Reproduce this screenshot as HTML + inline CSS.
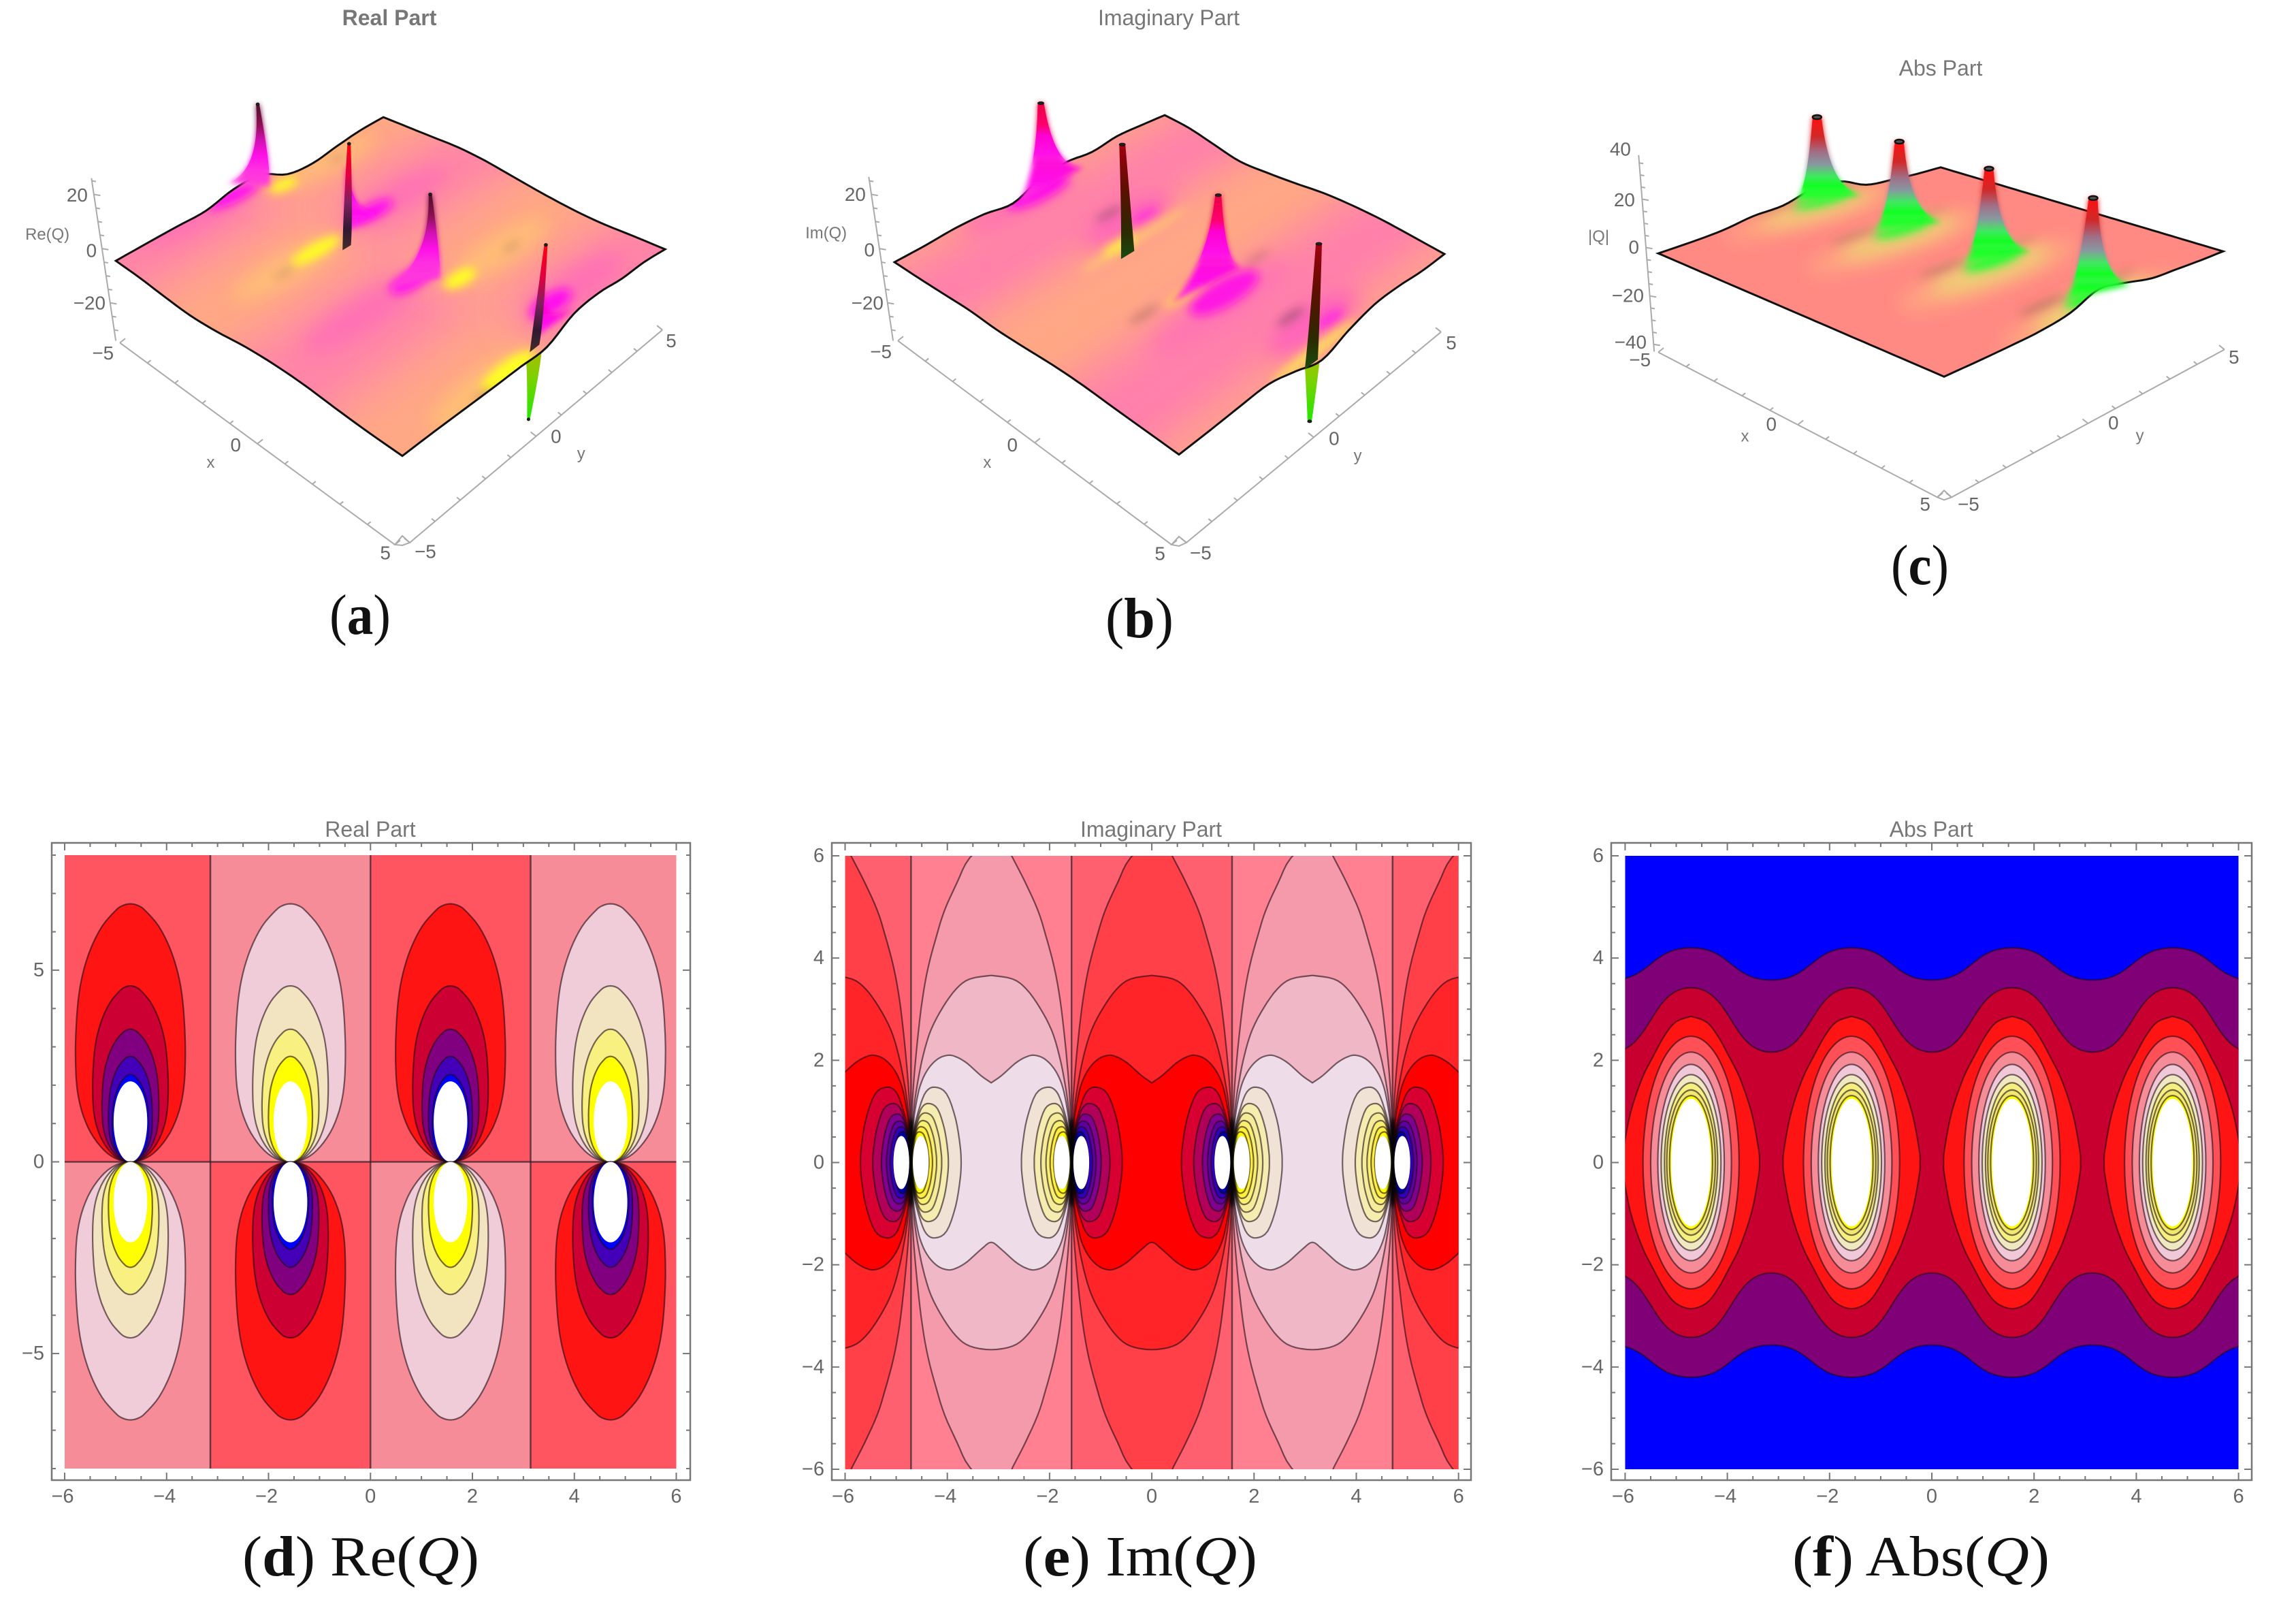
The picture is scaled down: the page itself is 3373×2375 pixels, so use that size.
<!DOCTYPE html>
<html lang="en">
<head>
<meta charset="utf-8">
<title>Re, Im and Abs of Q: surface and contour plots</title>
<style>
html,body{margin:0;padding:0;background:#fff}
svg{display:block}
text{font-family:"Liberation Sans",sans-serif}
.t3{font-size:28px;fill:#666;text-anchor:middle;dominant-baseline:central}
.al{font-size:24px;fill:#777;text-anchor:middle;dominant-baseline:central}
.ti{font-size:32px;fill:#777;text-anchor:middle;dominant-baseline:central}
.cap{font-family:"Liberation Serif",serif;font-size:84px;fill:#111}
.cap .b{font-weight:bold}
.cap .q{font-style:italic}
.tk{font-size:29px;fill:#666;dominant-baseline:central}
</style>
</head>
<body>
<svg id="figure" xmlns="http://www.w3.org/2000/svg" width="3373" height="2375" viewBox="0 0 3373 2375">
<defs>
<filter id="blur-wide" filterUnits="userSpaceOnUse" x="-100" y="-100" width="3600" height="2600"><feGaussianBlur stdDeviation="30"/></filter>
<filter id="blur-soft" filterUnits="userSpaceOnUse" x="-100" y="-100" width="3600" height="2600"><feGaussianBlur stdDeviation="14"/></filter>
<filter id="blur-mid" filterUnits="userSpaceOnUse" x="-100" y="-100" width="3600" height="2600"><feGaussianBlur stdDeviation="7"/></filter>
<filter id="blur-skirt" filterUnits="userSpaceOnUse" x="-100" y="-100" width="3600" height="2600"><feGaussianBlur stdDeviation="4"/></filter>
<filter id="blur-small" filterUnits="userSpaceOnUse" x="-100" y="-100" width="3600" height="2600"><feGaussianBlur stdDeviation="3"/></filter>
</defs>
<rect width="3373" height="2375" fill="#fff"/>

<g id="panel-a" transform="scale(.995)"></g>
<g id="panel-b" transform="translate(1130 0) scale(.995) translate(-1130 0)"></g>
<g id="panel-c" transform="translate(2260 0) scale(.995) translate(-2260 0)"></g>
<g id="panel-d"></g>
<g id="panel-e"></g>
<g id="panel-f"></g>

<text class="ti" x="572" y="26" font-weight="bold">Real Part</text>
<text class="ti" x="1717" y="26">Imaginary Part</text>
<text class="ti" x="2851" y="100">Abs Part</text>
<text class="ti" x="544" y="1218">Real Part</text>
<text class="ti" x="1691" y="1218">Imaginary Part</text>
<text class="ti" x="2837" y="1218">Abs Part</text>

<g transform="scale(.995)">
<text class="t3" x="114" y="288">20</text>
<text class="t3" x="135" y="370">0</text>
<text class="t3" x="132" y="447">−20</text>
<text class="t3" x="152" y="521">−5</text>
<text class="al" x="70" y="346">Re(Q)</text>
<text class="al" x="311" y="683">x</text>
<text class="t3" x="348" y="657">0</text>
<text class="t3" x="569" y="816">5</text>
<text class="t3" x="628" y="814">−5</text>
<text class="t3" x="821" y="644">0</text>
<text class="al" x="858" y="670">y</text>
<text class="t3" x="991" y="503">5</text>
</g>
<g transform="translate(1130 0) scale(.995) translate(-1130 0)">
<text class="t3" x="1257" y="287">20</text>
<text class="t3" x="1278" y="369">0</text>
<text class="t3" x="1275" y="447">−20</text>
<text class="t3" x="1295" y="519">−5</text>
<text class="al" x="1214" y="344">Im(Q)</text>
<text class="al" x="1452" y="683">x</text>
<text class="t3" x="1489" y="657">0</text>
<text class="t3" x="1707" y="817">5</text>
<text class="t3" x="1767" y="816">−5</text>
<text class="t3" x="1964" y="647">0</text>
<text class="al" x="1999" y="673">y</text>
<text class="t3" x="2137" y="506">5</text>
</g>
<g transform="translate(2260 0) scale(.995) translate(-2260 0)">
<text class="t3" x="2381" y="220">40</text>
<text class="t3" x="2387" y="295">20</text>
<text class="t3" x="2401" y="365">0</text>
<text class="t3" x="2392" y="436">−20</text>
<text class="t3" x="2396" y="505">−40</text>
<text class="t3" x="2410" y="531">−5</text>
<text class="al" x="2349" y="349">|Q|</text>
<text class="al" x="2565" y="644">x</text>
<text class="t3" x="2604" y="626">0</text>
<text class="t3" x="2831" y="744">5</text>
<text class="t3" x="2895" y="744">−5</text>
<text class="t3" x="3109" y="624">0</text>
<text class="al" x="3148" y="643">y</text>
<text class="t3" x="3287" y="527">5</text>
</g>

<text class="cap" x="484" y="931" textLength="90" lengthAdjust="spacingAndGlyphs">(<tspan class="b">a</tspan>)</text>
<text class="cap" x="1624" y="936" textLength="100" lengthAdjust="spacingAndGlyphs">(<tspan class="b">b</tspan>)</text>
<text class="cap" x="2778" y="858" textLength="85" lengthAdjust="spacingAndGlyphs">(<tspan class="b">c</tspan>)</text>
<text class="cap" x="356" y="2314" textLength="348" lengthAdjust="spacingAndGlyphs">(<tspan class="b">d</tspan>) Re(<tspan class="q">Q</tspan>)</text>
<text class="cap" x="1503" y="2314" textLength="344" lengthAdjust="spacingAndGlyphs">(<tspan class="b">e</tspan>) Im(<tspan class="q">Q</tspan>)</text>
<text class="cap" x="2633" y="2314" textLength="378" lengthAdjust="spacingAndGlyphs">(<tspan class="b">f</tspan>) Abs(<tspan class="q">Q</tspan>)</text>
</svg>

<script>
/* ---------- data ---------- */
const polePositions = [-4.71, -1.57, 1.57, 4.71];

/* surface edge heights, 11 samples along each edge */
const aEdgeLeftTop = [0, .3, .5, .6, 3, 3, -2, -3, -1.5, -.3, 0];
const aEdgeTopRight = [0, .6, 1.2, 1.8, 1.5, .5, -.5, -1.2, -1.3, -.6, 0];
const aEdgeRightBottom = [0, 1.6, 2, 3.6, 3, -2, -1.6, -1.3, -.8, -.3, 0];
const aEdgeBottomLeft = [0, .2, .8, 1.6, 1.6, .8, -.8, -1.6, -1.1, -.3, 0];
const bEdgeLeftTop = [0, 0, .3, -.3, -2, 1.5, 2.4, 1, 1.8, 1, 0];
const bEdgeTopRight = [0, -.3, -1.8, -3.2, -2.4, -1.2, .3, 1, 1.1, .6, 0];
const bEdgeRightBottom = [0, 0, 1, 1, -1.6, -5.4, -2, 1, .8, .3, 0];
const bEdgeBottomLeft = [0, .5, 1, 1.6, 1.6, 1, .6, 1, .6, .2, 0];
const cEdgeLeftTop = [0, .5, 1.4, 3.4, 4, 7, 7, 2.2, 1, .3, 0];
const cEdgeTopRight = [0, 0, 0, 0, 0, 0, 0, 0, 0, 0, 0];
const cEdgeRightBottom = [0, .5, 1.3, 2.2, 5.2, 7.7, 3, 1, .4, .1, 0];
const cEdgeBottomLeft = [0, 0, 0, 0, 0, 0, 0, 0, 0, 0, 0];

/* spikes: position along x, tip height, skirt extent along y, skirt height */
const aSpikeX = [-4.71, -1.57, -1.57, 1.57, 4.71, 4.71];
const aSpikeTip = [30.8, 24, 32.6, 32.2, 18, 34.2];
const aSpikeBaseA = [-1.4, 0, -.2, -1.9, 0, -.25];
const aSpikeBaseB = [.05, 1.3, .12, .12, 1.5, .12];
const aSpikeLift = [9, 0, -6, 10, 0, -4];
const aDownX = [4.71];
const aDownTip = [-31];
const bSpikeX = [-4.71, -1.57, 1.57, 4.71];
const bSpikeTip = [31, 32.8, 32.8, 35.5];
const bSpikeBaseA = [-1, -.25, -1.65, -.25];
const bSpikeBaseB = [1.4, .25, .95, .25];
const bSpikeLift = [0, -8, 4, -9];
const bDownX = [4.71];
const bDownTip = [-30];
const cSpikeX = [-4.71, -1.57, 1.57, 4.71];
const cSpikeTip = [38.2, 39.7, 41.5, 44];
const cSpikeBaseA = [-.8, -.8, -.8, -.8];
const cSpikeBaseB = [1.6, 1.6, 1.6, 1.6];
const cSpikeLift = [6, 6, 6, 6];

/* colour patches on the surface of (a) */
const aPatchX = [-5.07, -4.46, -1.56, -1.73, 1.1, 1.93, 4.96, 4.2];
const aPatchY = [-.92, .35, -1.16, 1.07, -.44, .46, -1.4, 1.2];
const aPatchRy = [.9, .5, .85, .8, .7, .55, .9, .75];
const aPatchKind = ['m', 'y', 'y', 'm', 'm', 'y', 'y', 'm'];
const cPatchX = [-4.71, -1.57, 1.57, 4.71];

/* level sets for the contour panels */
const lobeProfileT = [0, .009, .044, .114, .2, .29, .386, .49, .623, .728, .825, .912, .974, .993, 1];
const lobeProfileW = [0, .228, .477, .726, .892, .975, 1, .996, .954, .87, .726, .52, .27, .145, 0];
const dLevelHeight = [6.73, 4.59, 3.46, 2.75, 2.28];
const dLevelWidth = [1.076, .74, .557, .43, .357];
const dHoleHeight = 2.1;
const dHoleWidth = .33;
const dUpperSign = [-1, 1, -1, 1];

const eCellCentres = [-6.283, -3.1416, 0, 3.1416, 6.283];
const eOuterY = [6.5, 5.96, 5.48, 4.94, 4.45, 3.83, 3.2, 2.41, 1.52, .63, 0];
const eOuterW = [.14, .42, .666, .91, 1.065, 1.23, 1.345, 1.44, 1.52, 1.565, 1.571];
const eMidY = [3.66, 3.59, 3.39, 3.03, 2.59, 2.1, 1.56, 1.08, .5, 0];
const eMidW = [0, .42, .69, .95, 1.18, 1.33, 1.44, 1.51, 1.56, 1.571];
const ePeanutY = [1.56, 1.7, 1.94, 2.06, 2.1, 2.03, 1.85, 1.61, 1.3, .72, 0];
const ePeanutW = [0, .2, .47, .67, .84, 1.04, 1.22, 1.35, 1.44, 1.53, 1.571];
const poleProfileT = [0, .06, .17, .3, .48, .71, .89, .98, 1];
const poleProfileW = [0, .43, .73, .94, 1, .91, .58, .22, 0];
const eRedReach = [.99, .75, .58, .48, .41, .34];
const eRedHalf = [1.475, 1.155, .95, .81, .7, .61];
const eLightReach = [.98, .73, .6, .5, .42, .35];
const eLightHalf = [1.475, 1.155, .97, .82, .7, .6];

const fWaveX = [-6.283, -4.712, -3.1416, -1.571, 0, 1.571, 3.1416, 4.712, 6.283];
const fOuterWave = [3.57, 4.2, 3.57, 4.2, 3.57, 4.2, 3.57, 4.2, 3.57];
const fInnerWave = [2.16, 3.42, 2.16, 3.42, 2.16, 3.42, 2.16, 3.42, 2.16];
const fTopRingY = [2.86, 2.75, 2.48, 2.08, 1.64, .97, .27, 0];
const fTopRingW = [0, .3, .52, .74, .96, 1.185, 1.32, 1.34];
const fRingRx = [.94, .79, .65, .585, .52, .475, .42];
const fRingRy = [2.47, 2.16, 1.92, 1.72, 1.56, 1.42, 1.31];
const fHoleRx = .39;
const fHoleRy = 1.25;

/* ticks */
const surfaceTicks = [-5, -4, -3, -2, -1, 0, 1, 2, 3, 4, 5];
const xTickLabels = [-6, -4, -2, 0, 2, 4, 6];
const dYTickLabels = [-5, 0, 5];
const eYTickLabels = [-6, -4, -2, 0, 2, 4, 6];

/* ---------- styles ---------- */
const aSpikeTone = ['magentaDark', 'magenta', 'redDark', 'magentaDark', 'magenta', 'redDark'];
const aSpikeShift = [-9, 0, 2.5, -16, 0, -2];
const aSpikeWidth = [2.4, 1.5, 2.4, 2.4, 1.5, 2.4];
const aSpikeFlare = [3.2, 3.2, 3, 3.2, 3.2, 3];
const bSpikeTone = ['redMagenta', 'blackRed', 'redMagenta', 'blackRed'];
const bSpikeShift = [-2, -6.6, -2.5, -7];
const bSpikeWidth = [4.5, 4.5, 4.5, 4.5];
const bSpikeFlare = [3, 1.6, 3, 1.6];
const cSpikeTone = ['absColumn', 'absColumn', 'absColumn', 'absColumn'];
const cSpikeShift = [2, 2.5, -.7, 0];
const cSpikeWidth = [6.5, 6.5, 6.5, 6.5];
const cSpikeFlare = [2.6, 2.6, 2.6, 2.6];

const spikeTones = {
  magentaDark: [[0, '#50102a'], [.25, '#8a1050'], [.45, '#d010b0'], [.65, '#ff10e8'], [.82, '#ff30e0'], [1, '#ff40d8', 0]],
  magenta: [[0, '#ff0080'], [.4, '#ff00d0'], [.75, '#ff10f0'], [1, '#ff30e0', 0]],
  redDark: [[0, '#ff0010'], [.3, '#e00040'], [.55, '#802060'], [.8, '#301830'], [1, '#302020', .9]],
  redMagenta: [[0, '#e80040'], [.35, '#ff0070'], [.5, '#ff00d0'], [.8, '#ff10e8'], [1, '#ff40d8', 0]],
  blackRed: [[0, '#a00010'], [.4, '#5a1000'], [.75, '#2c2a00'], [1, '#1a4a10']],
  green: [[0, '#20e800'], [.5, '#80d000'], [1, '#c8b000']],
  absColumn: [[0, '#ff1010'], [.25, '#d02828'], [.45, '#a07088'], [.6, '#8898a0'], [.75, '#40e860'], [.88, '#10ff20'], [1, '#40ff40', 0]]
};
const dRed = ['#ff1414', '#cc0033', '#800080', '#4400b8', '#0000ff'];
const dLight = ['#f0ccd8', '#f2e4c0', '#f8f080', '#ffff00'];
const eRedFill = ['#d80030', '#b0005a', '#800090', '#6000a0', '#3000c0', '#0000a0'];
const eLightFill = ['#f0e2d4', '#f5ecb0', '#f4ec98', '#f8f070', '#fff040', '#ffff00'];
const fRingFill = ['#ff5058', '#f58c98', '#f0c8d8', '#f0e8c0', '#f5f080', '#f0e870', '#ffff00'];

const NS = 'http://www.w3.org/2000/svg';
function make(tag, attrs, parent) {
  const n = document.createElementNS(NS, tag);
  for (const k in attrs) n.setAttribute(k, attrs[k]);
  parent.appendChild(n);
  return n;
}
const defs = document.querySelector('#figure defs');
let gradId = 0;
function catmull(pts, per) {
  const out = [];
  for (let i = 0; i < pts.length - 1; i++) {
    const p0 = pts[Math.max(i - 1, 0)], p1 = pts[i], p2 = pts[i + 1], p3 = pts[Math.min(i + 2, pts.length - 1)];
    for (let s = 0; s < per; s++) {
      const t = s / per, t2 = t * t, t3 = t2 * t;
      out.push([
        .5 * (2 * p1[0] + (p2[0] - p0[0]) * t + (2 * p0[0] - 5 * p1[0] + 4 * p2[0] - p3[0]) * t2 + (3 * p1[0] - p0[0] - 3 * p2[0] + p3[0]) * t3),
        .5 * (2 * p1[1] + (p2[1] - p0[1]) * t + (2 * p0[1] - 5 * p1[1] + 4 * p2[1] - p3[1]) * t2 + (3 * p1[1] - p0[1] - 3 * p2[1] + p3[1]) * t3)
      ]);
    }
  }
  out.push(pts[pts.length - 1]);
  return out;
}
function toD(pts, close) {
  return 'M' + pts.map(p => p[0].toFixed(1) + ' ' + p[1].toFixed(1)).join('L') + (close ? 'Z' : '');
}
function homography(c) {
  const [x0, y0] = c[0], [x1, y1] = c[1], [x2, y2] = c[2], [x3, y3] = c[3];
  const dx1 = x1 - x2, dx2 = x3 - x2, sx = x0 - x1 + x2 - x3;
  const dy1 = y1 - y2, dy2 = y3 - y2, sy = y0 - y1 + y2 - y3;
  const den = dx1 * dy2 - dx2 * dy1;
  const g = (sx * dy2 - dx2 * sy) / den, h = (dx1 * sy - sx * dy1) / den;
  const a = x1 - x0 + g * x1, b = x3 - x0 + h * x3, d = y1 - y0 + g * y1, e = y3 - y0 + h * y3;
  return (u, v) => {
    const w = g * u + h * v + 1;
    return [(a * u + b * v + x0) / w, (d * u + e * v + y0) / w];
  };
}

/* ---------- surface panels ---------- */
function drawSurface(cfg) {
  const root = document.getElementById(cfg.id);
  const H = homography(cfg.corners);
  const project = (x, y, z) => {
    const p = H((x + 5) / 10, (y + 5) / 10);
    const up = z * cfg.zScale;
    return [p[0] + up * (p[0] - cfg.vanishX) / cfg.vanishH, p[1] - up];
  };
  const edgeTrace = (arr, fx, fy) => catmull(arr.map((z, i) => project(fx(i / 10), fy(i / 10), z)), 5);
  const outline = [].concat(
    edgeTrace(cfg.edges[0], () => -5, t => -5 + 10 * t),
    edgeTrace(cfg.edges[1], t => -5 + 10 * t, () => 5),
    edgeTrace(cfg.edges[2], () => 5, t => 5 - 10 * t),
    edgeTrace(cfg.edges[3], t => 5 - 10 * t, () => -5)
  );
  const clip = make('clipPath', { id: cfg.id + '-clip' }, defs);
  make('path', { d: toD(outline, true) }, clip);

  const drawSpike = s => {
    const T = project(s.x, 0, s.tip), C = project(s.x, 0, 0), A = project(s.x, s.a, s.lift), B = project(s.x, s.b, Math.min(s.lift, 0));
    T[0] += s.shift;
    const stops = spikeTones[s.tone];
    const fades = stops[stops.length - 1][2] === 0;
    const col = T[0] * .2 + C[0] * .8, cy = T[1] * .2 + C[1] * .8, off = s.w * s.flare;
    const shape = `M${T[0] - s.w} ${T[1]}Q${col - off} ${cy} ${A[0]} ${A[1]}L${B[0]} ${B[1]}Q${col + off} ${cy} ${T[0] + s.w} ${T[1]}Z`;
    if (fades) {
      /* soft lower part: a blurred, unfaded copy that melts into the surface */
      const softId = 'sg' + (gradId++);
      const softGrad = make('linearGradient', { id: softId, gradientUnits: 'userSpaceOnUse', x1: 0, y1: T[1], x2: 0, y2: Math.max(A[1], B[1]) }, defs);
      stops.forEach(st => make('stop', { offset: st[0], 'stop-color': st[1] }, softGrad));
      const soft = make('path', { d: shape, fill: 'url(#' + softId + ')', filter: 'url(#blur-skirt)' }, root);
      
      
    }
    const gid = 'sg' + (gradId++);
    const endY = s.tip < 0 ? Math.min(A[1], B[1], C[1]) : (fades ? Math.min(A[1], B[1]) : Math.max(A[1], B[1]));
    const grad = make('linearGradient', { id: gid, gradientUnits: 'userSpaceOnUse', x1: 0, y1: T[1], x2: 0, y2: endY }, defs);
    stops.forEach(st => {
      const stop = make('stop', { offset: st[0], 'stop-color': st[1] }, grad);
      if (st.length > 2) stop.setAttribute('stop-opacity', st[2]);
    });
    const body = make('path', { d: shape, fill: 'url(#' + gid + ')' }, root);
    
    
    if (s.cap) {
      const k = make('ellipse', { cx: T[0], cy: T[1], rx: s.w, ry: s.cap === 'ring' ? 3 : 2, fill: s.cap === 'ring' ? '#555' : '#222', stroke: '#111', 'stroke-width': s.cap === 'ring' ? 2.5 : 1 }, root);
      
      
    }
  };

  cfg.down.x.forEach((x, i) => drawSpike({ x: x, tip: cfg.down.tip[i], a: cfg.down.a, b: cfg.down.b, lift: 0, shift: cfg.down.shift, w: cfg.down.w, flare: cfg.down.flare, tone: 'green', cap: 'dark' }));

  const body = make('g', { 'clip-path': 'url(#' + cfg.id + '-clip)' }, root);
  
  
  make('rect', { x: 0, y: 0, width: 3373, height: 1100, fill: cfg.base }, body);
  const plane = (x0, x1, y0, y1) => toD([project(x0, y0, 0), project(x1, y0, 0), project(x1, y1, 0), project(x0, y1, 0)], true);
  const ellipsePlane = (x, y, rx, ry) => {
    const pts = [];
    for (let a = 0; a < 24; a++) pts.push(project(x + rx * Math.cos(a * Math.PI / 12), y + ry * Math.sin(a * Math.PI / 12), cfg.patchLift));
    return toD(pts, true);
  };
  cfg.cells.forEach(c => {
    const cell = make('path', { d: plane(c[0], c[1], c[2], c[3]), fill: c[4], filter: 'url(#blur-wide)' }, body);
    
    
  });
  cfg.patches.forEach(c => {
    const patch = make('path', { d: ellipsePlane(c[0], c[1], c[2], c[3]), fill: c[4], opacity: c[5], filter: 'url(#' + c[6] + ')' }, body);
    
    
  });

  const edge = make('path', { d: toD(outline, true), fill: 'none', stroke: '#111', 'stroke-width': 3 }, root);
  
  

  cfg.spikes.x.forEach((x, i) => drawSpike({
    x: x, tip: cfg.spikes.tip[i], a: cfg.spikes.a[i], b: cfg.spikes.b[i], lift: cfg.spikes.lift[i],
    shift: cfg.spikes.shift[i], w: cfg.spikes.width[i], flare: cfg.spikes.flare[i],
    tone: cfg.spikes.tone[i], cap: cfg.spikes.tone[i] === 'magenta' ? null : cfg.spikes.cap
  }));

  /* box axes */
  const axis = (from, to, name, tickDx, tickDy, values, lo, hi, step) => {
    const g = make('g', { stroke: '#aaa', 'stroke-width': 2, fill: 'none' }, root);
    
    
    make('line', { x1: from[0], y1: from[1], x2: to[0], y2: to[1] }, g);
    values.forEach(v => {
      const t = (v - lo) / (hi - lo), px = from[0] + (to[0] - from[0]) * t, py = from[1] + (to[1] - from[1]) * t;
      const m = v % step === 0 ? 1.6 : 1;
      const tick = make('line', { x1: px, y1: py, x2: px + tickDx * m, y2: py + tickDy * m }, g);
      
      
    });
  };
  axis(cfg.xAxis[0], cfg.xAxis[1], 'x-axis', 5, -4, surfaceTicks, -5, 5, 5);
  axis(cfg.yAxis[0], cfg.yAxis[1], 'y-axis', -5, -4, surfaceTicks, -5, 5, 5);
  axis(cfg.zAxis[0], cfg.zAxis[1], 'z-axis', 6, 1, cfg.zTicks, cfg.zRange[0], cfg.zRange[1], 20);
  const dia = make('path', { d: `M${cfg.xAxis[1][0]} ${cfg.xAxis[1][1]}L${cfg.corner[0]} ${cfg.corner[1] - 7}L${cfg.yAxis[0][0]} ${cfg.yAxis[0][1]}L${cfg.corner[0]} ${cfg.corner[1] + 7}Z`, fill: 'none', stroke: '#aaa', 'stroke-width': 2 }, root);
  
  
}

const pink = '#ff84a8', peach = '#ffa884';
function checkerCells() {
  const xb = [-8, -3.14, 0, 3.14, 8], out = [];
  for (let i = 0; i < 4; i++) {
    const first = i % 2 === 0 ? pink : peach, second = i % 2 === 0 ? peach : pink;
    out.push([xb[i] + .4, xb[i + 1] - .4, -8, -.3, first]);
    out.push([xb[i] + .4, xb[i + 1] - .4, .3, 8, second]);
  }
  return out;
}
const aPatches = [];
aPatchX.forEach((x, i) => {
  const y = aPatchY[i], side = y < 0 ? -1 : 1;
  if (aPatchKind[i] === 'm') {
    aPatches.push([x, side * 2.2, .55, 1.9, '#ff60c0', .55, 'blur-soft']);
    aPatches.push([x, y, .3, aPatchRy[i], '#ff10f0', 1, 'blur-mid']);
  } else {
    aPatches.push([x, side * 2.2, .5, 1.8, '#ffc870', .7, 'blur-soft']);
    aPatches.push([x, y, .26, aPatchRy[i], '#ffff20', 1, 'blur-mid']);
    aPatches.push([x + .1, side * 2.4, .06, .35, '#503040', .35, 'blur-mid']);
  }
});
drawSurface({
  id: 'panel-a', base: '#ff9a96', patchLift: 0,
  corners: [[171, 385], [594, 673], [982, 368], [566, 173]],
  zScale: 3.95, vanishX: 525, vanishH: 2500,
  edges: [aEdgeLeftTop, aEdgeTopRight, aEdgeRightBottom, aEdgeBottomLeft],
  cells: checkerCells(), patches: aPatches,
  spikes: { x: aSpikeX, tip: aSpikeTip, a: aSpikeBaseA, b: aSpikeBaseB, lift: aSpikeLift, tone: aSpikeTone, shift: aSpikeShift, width: aSpikeWidth, flare: aSpikeFlare, cap: 'dark' },
  down: { x: aDownX, tip: aDownTip, shift: 0, w: 2, flare: 6, a: -.5, b: .2 },
  xAxis: [[177, 506], [583, 804]], yAxis: [[605, 801], [978, 487]], zAxis: [[135, 263], [171, 503]],
  corner: [594, 798], zTicks: [-30, -25, -20, -15, -10, -5, 0, 5, 10, 15, 20, 25], zRange: [26, -34]
});
const bPatches = [
  [-4.71, -1, .6, 2, '#ff60c0', .6, 'blur-soft'], [-4.71, -.3, .4, 1.1, '#ff10e8', 1, 'blur-mid'],
  [-2, .5, .5, 1.6, '#ff40d0', .55, 'blur-soft'], [-1.8, .9, .15, .5, '#ff20e8', .9, 'blur-mid'],
  [-1.25, 0, .18, 2, '#ffe060', .6, 'blur-mid'], [-1.35, -.5, .15, .6, '#ffff30', .9, 'blur-mid'], [-2.57, .3, .12, .5, '#402040', .4, 'blur-mid'],
  [2.2, -.5, .6, 2.5, '#ff60c0', .45, 'blur-soft'], [1.95, -.1, .45, 1.2, '#ff10e8', .9, 'blur-mid'],
  [1.27, -.84, .12, .7, '#ffee40', .95, 'blur-mid'], [1.1, -2.1, .1, .5, '#503030', .35, 'blur-mid'], [1.6, 1.55, .07, .45, '#503030', .35, 'blur-mid'],
  [4.3, .5, .5, 1.6, '#ff40d0', .55, 'blur-soft'], [4.5, .9, .15, .5, '#ff20e8', .9, 'blur-mid'],
  [4.98, -.3, .14, 1.6, '#ffee50', .9, 'blur-mid'], [3.75, .3, .12, .5, '#402040', .4, 'blur-mid']
];
drawSurface({
  id: 'panel-b', base: '#ff9a92', patchLift: 0,
  corners: [[1315, 387], [1735, 671], [2127, 375], [1714, 170]],
  zScale: 4, vanishX: 1680, vanishH: 2500,
  edges: [bEdgeLeftTop, bEdgeTopRight, bEdgeRightBottom, bEdgeBottomLeft],
  cells: [[-8, -4.9, -8, 8, '#ffa28a'], [-4.4, -1.9, -8, 8, '#ff80ac'], [-1.2, 1.2, -8, 8, peach], [1.9, 4.4, -8, 8, '#ff80ac'], [4.95, 8, -8, 8, '#ffa090']],
  patches: bPatches,
  spikes: { x: bSpikeX, tip: bSpikeTip, a: bSpikeBaseA, b: bSpikeBaseB, lift: bSpikeLift, tone: bSpikeTone, shift: bSpikeShift, width: bSpikeWidth, flare: bSpikeFlare, cap: 'dark' },
  down: { x: bDownX, tip: bDownTip, shift: 6, w: 3, flare: 4, a: -.4, b: .3 },
  xAxis: [[1320, 503], [1724, 804]], yAxis: [[1746, 801], [2122, 490]], zAxis: [[1277, 261], [1313, 503]],
  corner: [1735, 799], zTicks: [-30, -25, -20, -15, -10, -5, 0, 5, 10, 15, 20, 25], zRange: [26.5, -34]
});
const cPatches = [];
cPatchX.forEach(x => {
  cPatches.push([x + .7, -.6, .8, 3, '#ffb080', .75, 'blur-soft']);
  cPatches.push([x + .5, -.4, .55, 2, '#e8e070', .85, 'blur-soft']);
  cPatches.push([x + .15, 0, .35, .95, '#20ff30', 1, 'blur-mid']);
  cPatches.push([x - .35, -1.2, .1, .8, '#504030', .45, 'blur-mid']);
  cPatches.push([x - .2, 1.5, .1, .5, '#504030', .25, 'blur-mid']);
});
drawSurface({
  id: 'panel-c', base: '#ff8a84', patchLift: 4,
  corners: [[2437, 374], [2859, 556], [3271, 371], [2854, 247]],
  zScale: 3.55, vanishX: 2850, vanishH: 5000,
  edges: [cEdgeLeftTop, cEdgeTopRight, cEdgeRightBottom, cEdgeBottomLeft],
  cells: [], patches: cPatches,
  spikes: { x: cSpikeX, tip: cSpikeTip, a: cSpikeBaseA, b: cSpikeBaseB, lift: cSpikeLift, tone: cSpikeTone, shift: cSpikeShift, width: cSpikeWidth, flare: cSpikeFlare, cap: 'ring' },
  down: { x: [], tip: [], shift: 0, w: 0, flare: 0, a: 0, b: 0 },
  xAxis: [[2437, 520], [2849, 734]], yAxis: [[2870, 734], [3273, 516]], zAxis: [[2408, 229], [2431, 519]],
  corner: [2859, 731], zTicks: [-40, -35, -30, -25, -20, -15, -10, -5, 0, 5, 10, 15, 20, 25, 30, 35], zRange: [38.2, -43]
});

/* ---------- contour panels ---------- */
function contourAxes(c) {
  return {
    sx: v => c.left + (v - c.xMin) / (c.xMax - c.xMin) * (c.right - c.left),
    sy: v => c.top + (c.yMax - v) / (c.yMax - c.yMin) * (c.bottom - c.top)
  };
}
function frameAndTicks(c, root, ax, yLabels, yMinor) {
  const frame = make('rect', { x: c.frame[0], y: c.frame[1], width: c.frame[2] - c.frame[0], height: c.frame[3] - c.frame[1], fill: 'none', stroke: '#777', 'stroke-width': 2.5 }, root);
  
  
  const g = make('g', { stroke: '#777', 'stroke-width': 2 }, root);
  
  
  for (let v = -6; v <= 6.001; v += .5) {
    const len = Math.abs(v % 2) < .01 ? 11 : 6, X = ax.sx(v);
    make('line', { x1: X, y1: c.frame[3], x2: X, y2: c.frame[3] - len }, g);
    make('line', { x1: X, y1: c.frame[1], x2: X, y2: c.frame[1] + len }, g);
  }
  for (let v = c.yMin; v <= c.yMax + .001; v += yMinor) {
    const major = yLabels.indexOf(Math.round(v * 100) / 100) >= 0;
    const len = major ? 11 : 6, Y = ax.sy(v);
    make('line', { x1: c.frame[0], y1: Y, x2: c.frame[0] + len, y2: Y }, g);
    make('line', { x1: c.frame[2], y1: Y, x2: c.frame[2] - len, y2: Y }, g);
  }
  xTickLabels.forEach(v => {
    const t = make('text', { class: 'tk', x: ax.sx(v) + (v < 0 ? -3 : 0), y: c.frame[3] + 24, 'text-anchor': 'middle' }, root);
    t.textContent = String(v).replace('-', '−');
    
    
  });
  yLabels.forEach(v => {
    const t = make('text', { class: 'tk', x: c.frame[0] - 11, y: ax.sy(v), 'text-anchor': 'end' }, root);
    t.textContent = String(v).replace('-', '−');
    
    
  });
}
function plotClip(c, id) {
  const cp = make('clipPath', { id: id }, defs);
  make('rect', { x: c.left, y: c.top, width: c.right - c.left, height: c.bottom - c.top }, cp);
}
/* lobe growing away from a pole; 'y' grows vertically, 'x' horizontally */
function lobeD(ax, px, py, reach, half, dir, along, profT, profW) {
  const one = [], two = [];
  profT.forEach((t, i) => {
    const w = half * profW[i], r = dir * reach * t;
    if (along === 'y') {
      one.push([ax.sx(px + w), ax.sy(py + r)]);
      two.unshift([ax.sx(px - w), ax.sy(py + r)]);
    } else {
      one.push([ax.sx(px + r), ax.sy(py + w)]);
      two.unshift([ax.sx(px + r), ax.sy(py - w)]);
    }
  });
  return toD(catmull(one.concat(two.slice(1)), 4), true);
}
const contourStroke = fill => ({ fill: fill, stroke: 'rgba(30,10,20,.6)', 'stroke-width': 2.2 });
const zeroLine = 'rgba(50,30,40,.72)';

/* panel d */
(function () {
  const c = { left: 95, right: 993.5, top: 1256, bottom: 2157, xMin: -6, xMax: 6, yMin: -8, yMax: 8, frame: [76, 1238, 1014, 2174] };
  const ax = contourAxes(c), root = document.getElementById('panel-d');
  const cellEdges = [-6, -3.1416, 0, 3.1416, 6];
  for (let i = 0; i < 4; i++) {
    const up = dUpperSign[i] < 0 ? '#ff5560' : '#f58c98', low = dUpperSign[i] < 0 ? '#f58c98' : '#ff5560';
    const a = make('rect', { x: ax.sx(cellEdges[i]), y: ax.sy(8), width: ax.sx(cellEdges[i + 1]) - ax.sx(cellEdges[i]), height: ax.sy(0) - ax.sy(8), fill: up }, root);
    
    
    const b = make('rect', { x: ax.sx(cellEdges[i]), y: ax.sy(0), width: ax.sx(cellEdges[i + 1]) - ax.sx(cellEdges[i]), height: ax.sy(-8) - ax.sy(0), fill: low }, root);
    
    
  }
  [-3.1416, 0, 3.1416].forEach(v => {
    const l = make('line', { x1: ax.sx(v), y1: ax.sy(8), x2: ax.sx(v), y2: ax.sy(-8), stroke: zeroLine, 'stroke-width': 2.5 }, root);
    
    
  });
  const h = make('line', { x1: ax.sx(-6), y1: ax.sy(0), x2: ax.sx(6), y2: ax.sy(0), stroke: zeroLine, 'stroke-width': 2.5 }, root);
  
  
  polePositions.forEach((x, i) => {
    [1, -1].forEach(dir => {
      const red = (dir > 0 ? dUpperSign[i] : -dUpperSign[i]) < 0;
      const fills = red ? dRed : dLight;
      dLevelHeight.forEach((lh, k) => {
        if (k >= fills.length) return;
        const lobe = make('path', Object.assign({ d: lobeD(ax, x, 0, lh, dLevelWidth[k], dir, 'y', lobeProfileT, lobeProfileW) }, contourStroke(fills[k])), root);
        
        
      });
      const hole = make('ellipse', { cx: ax.sx(x), cy: ax.sy(dir * dHoleHeight / 2), rx: ax.sx(dHoleWidth) - ax.sx(0), ry: (ax.sy(0) - ax.sy(dHoleHeight)) / 2, fill: '#fff' }, root);
      
      
    });
  });
  frameAndTicks(c, root, ax, dYTickLabels, 1);
})();

/* panel e */
(function () {
  const c = { left: 1241.5, right: 2142.7, top: 1257, bottom: 2158, xMin: -6, xMax: 6, yMin: -6, yMax: 6, frame: [1222, 1238, 2161, 2174] };
  const ax = contourAxes(c), root = document.getElementById('panel-e');
  plotClip(c, 'clip-e');
  const g = make('g', { 'clip-path': 'url(#clip-e)' }, root);
  
  
  const closedBand = (cx, ws, ys) => {
    const pts = [];
    ys.forEach((y, i) => pts.push([ax.sx(cx + ws[i]), ax.sy(y)]));
    for (let i = ys.length - 2; i >= 0; i--) pts.push([ax.sx(cx + ws[i]), ax.sy(-ys[i])]);
    for (let i = 1; i < ys.length; i++) if (ws[i] > 0 || ws[0] > 0) pts.push([ax.sx(cx - ws[i]), ax.sy(-ys[i])]);
    for (let i = ys.length - 2; i >= 1; i--) pts.push([ax.sx(cx - ws[i]), ax.sy(ys[i])]);
    pts.push(pts[0]);
    return toD(catmull(pts, 4), true);
  };
  eCellCentres.forEach((cx, i) => {
    const even = i % 2 === 0;
    const strip = make('rect', { x: ax.sx(cx - 1.5708), y: c.top, width: ax.sx(cx + 1.5708) - ax.sx(cx - 1.5708), height: c.bottom - c.top, fill: even ? '#ff6070' : '#ff8090' }, g);
    
    
    const outer = make('path', Object.assign({ d: closedBand(cx, eOuterW, eOuterY) }, contourStroke(even ? '#ff4048' : '#f59aaa')), g);
    
    
    const mid = make('path', Object.assign({ d: closedBand(cx, eMidW, eMidY) }, contourStroke(even ? '#ff2428' : '#f0b8c6')), g);
    
    
    const peanut = make('path', Object.assign({ d: closedBand(cx, ePeanutW, ePeanutY) }, contourStroke(even ? '#ff0000' : '#eedce8')), g);
    
    
  });
  polePositions.forEach(x => {
    const l = make('line', { x1: ax.sx(x), y1: c.top, x2: ax.sx(x), y2: c.bottom, stroke: zeroLine, 'stroke-width': 2.5 }, g);
    
    
  });
  polePositions.forEach((x, idx) => {
    const redRight = idx % 2 === 1;
    [1, -1].forEach(dir => {
      const red = dir > 0 ? redRight : !redRight;
      const reach = red ? eRedReach : eLightReach, half = red ? eRedHalf : eLightHalf, fills = red ? eRedFill : eLightFill;
      reach.forEach((r, k) => {
        const lobe = make('path', Object.assign({ d: lobeD(ax, x, 0, r, half[k], dir, 'x', poleProfileT, poleProfileW) }, contourStroke(fills[k])), g);
        
        
      });
    });
    const dark = make('ellipse', { cx: ax.sx(x), cy: ax.sy(0), rx: 7, ry: 66, fill: '#000', opacity: .92, filter: 'url(#blur-small)' }, g);
    
    
    [1, -1].forEach(dir => {
      const hole = make('ellipse', { cx: ax.sx(x + dir * .19), cy: ax.sy(0), rx: ax.sx(.155) - ax.sx(0), ry: ax.sy(0) - ax.sy(.52), fill: '#fff' }, g);
      
      
    });
  });
  frameAndTicks(c, root, ax, eYTickLabels, .5);
})();

/* panel f */
(function () {
  const c = { left: 2387.4, right: 3288.6, top: 1257, bottom: 2158, xMin: -6, xMax: 6, yMin: -6, yMax: 6, frame: [2367, 1238, 3308, 2174] };
  const ax = contourAxes(c), root = document.getElementById('panel-f');
  plotClip(c, 'clip-f');
  const g = make('g', { 'clip-path': 'url(#clip-f)' }, root);
  
  
  const bg = make('rect', { x: c.left, y: c.top, width: c.right - c.left, height: c.bottom - c.top, fill: '#0000ff' }, g);
  
  
  const bandD = wave => {
    let d = `M${ax.sx(fWaveX[0])} ${ax.sy(wave[0])}`;
    for (let i = 1; i < fWaveX.length; i++) {
      const m = (ax.sx(fWaveX[i - 1]) + ax.sx(fWaveX[i])) / 2;
      d += `C${m} ${ax.sy(wave[i - 1])} ${m} ${ax.sy(wave[i])} ${ax.sx(fWaveX[i])} ${ax.sy(wave[i])}`;
    }
    for (let i = fWaveX.length - 1; i >= 0; i--) {
      if (i === fWaveX.length - 1) { d += `L${ax.sx(fWaveX[i])} ${ax.sy(-wave[i])}`; continue; }
      const m = (ax.sx(fWaveX[i + 1]) + ax.sx(fWaveX[i])) / 2;
      d += `C${m} ${ax.sy(-wave[i + 1])} ${m} ${ax.sy(-wave[i])} ${ax.sx(fWaveX[i])} ${ax.sy(-wave[i])}`;
    }
    return d + 'Z';
  };
  const o = make('path', Object.assign({ d: bandD(fOuterWave) }, contourStroke('#800078')), g);
  
  
  const i2 = make('path', Object.assign({ d: bandD(fInnerWave) }, contourStroke('#c80030')), g);
  
  
  polePositions.forEach(x => {
    const pts = [];
    fTopRingY.forEach((y, i) => pts.push([ax.sx(x + fTopRingW[i]), ax.sy(y)]));
    for (let i = fTopRingY.length - 2; i >= 0; i--) pts.push([ax.sx(x + fTopRingW[i]), ax.sy(-fTopRingY[i])]);
    for (let i = 1; i < fTopRingY.length; i++) pts.push([ax.sx(x - fTopRingW[i]), ax.sy(-fTopRingY[i])]);
    for (let i = fTopRingY.length - 2; i >= 0; i--) pts.push([ax.sx(x - fTopRingW[i]), ax.sy(fTopRingY[i])]);
    const top = make('path', Object.assign({ d: toD(catmull(pts, 4), true) }, contourStroke('#ff1414')), g);
    
    
    fRingRx.forEach((rx, k) => {
      const ring = make('ellipse', Object.assign({ cx: ax.sx(x), cy: ax.sy(0), rx: ax.sx(rx) - ax.sx(0), ry: ax.sy(0) - ax.sy(fRingRy[k]) }, contourStroke(fRingFill[k])), g);
      
      
    });
    const hole = make('ellipse', { cx: ax.sx(x), cy: ax.sy(0), rx: ax.sx(fHoleRx) - ax.sx(0), ry: ax.sy(0) - ax.sy(fHoleRy), fill: '#fff' }, g);
    
    
  });
  frameAndTicks(c, root, ax, eYTickLabels, .5);
})();
</script>
</body>
</html>
